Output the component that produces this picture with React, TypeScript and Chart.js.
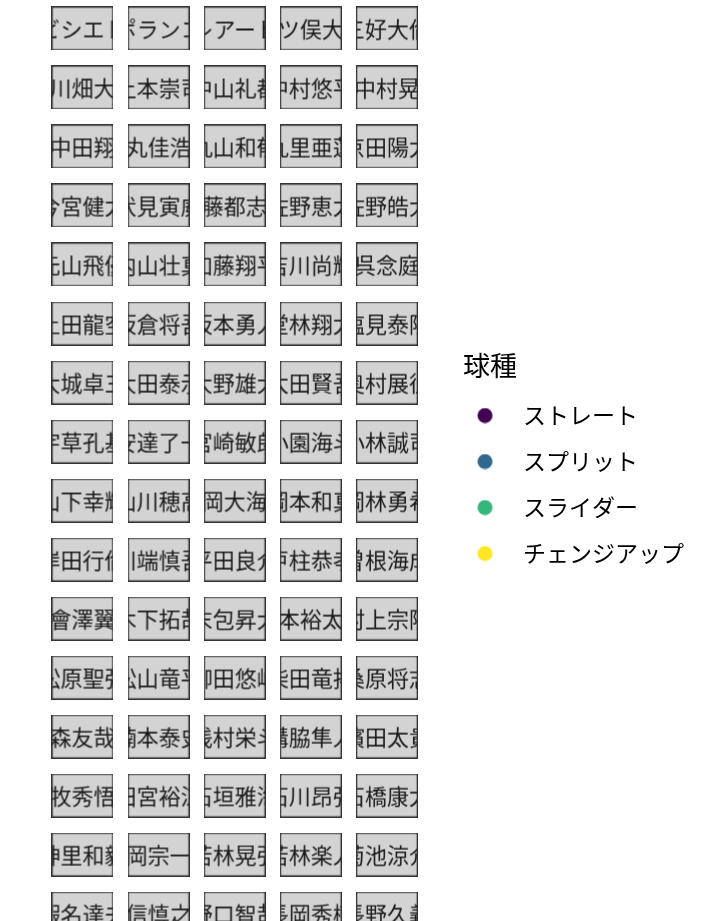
import React, { useEffect, useRef } from "react";
import { Chart, registerables } from "chart.js";

Chart.register(...registerables);

// Facet names (batters), in facet order
const players: string[] = [
  "ビシエド", "ポランコ", "レアード", "三ツ俣大樹", "三好大倫",
  "上川畑大悟", "上本崇司", "中山礼都", "中村悠平", "中村晃",
  "中田翔", "丸佳浩", "丸山和郁", "九里亜蓮", "京田陽太",
  "今宮健太", "伏見寅威", "佐藤都志也", "佐野恵太", "佐野皓大",
  "元山飛優", "内山壮真", "加藤翔平", "吉川尚輝", "呉念庭",
  "土田龍空", "坂倉将吾", "坂本勇人", "堂林翔太", "塩見泰隆",
  "大城卓三", "大田泰示", "大野雄大", "太田賢吾", "奥村展征",
  "宇草孔基", "安達了一", "宮崎敏郎", "小園海斗", "小林誠司",
  "山下幸輝", "山川穂高", "岡大海", "岡本和真", "岡林勇希",
  "岸田行倫", "川端慎吾", "平田良介", "戸柱恭孝", "曽根海成",
  "會澤翼", "木下拓哉", "末包昇大", "杉本裕太郎", "村上宗隆",
  "松原聖弥", "松山竜平", "柳田悠岐", "柴田竜拓", "桑原将志",
  "森友哉", "楠本泰史", "浅村栄斗", "溝脇隼人", "濱田太貴",
  "牧秀悟", "田宮裕涼", "石垣雅海", "石川昂弥", "石橋康太",
  "神里和毅", "立岡宗一郎", "若林晃弘", "若林楽人", "菊池涼介",
  "蝦名達夫", "重信慎之介", "野口智哉", "長岡秀樹", "長野久義",
];

const facetColumns: number[] = [1, 2, 3, 4, 5];

const pitchTypes: string[] = ["ストレート", "スプリット", "スライダー", "チェンジアップ"];
const pitchColors: string[] = ["#440154", "#31688E", "#35B779", "#FDE725"];
const legendTitle = "球種";

const FONT = '"Noto Sans CJK JP", "Noto Sans", sans-serif';

function makeStrip(name: string): HTMLCanvasElement {
  const w = 62;
  const h = 44;
  const c = document.createElement("canvas");
  c.width = w;
  c.height = h;
  const ctx = c.getContext("2d")!;
  ctx.fillStyle = "#D3D3D3";
  ctx.fillRect(0, 0, w, h);
  ctx.font = `22px ${FONT}`;
  ctx.fillStyle = "#1A1A1A";
  ctx.textAlign = "center";
  ctx.textBaseline = "middle";
  ctx.fillText(name, w / 2, h / 2 + 1);
  ctx.strokeStyle = "#333333";
  ctx.lineWidth = 1.3;
  ctx.strokeRect(0.65, 0.65, w - 1.3, h - 1.3);
  return c;
}

function makeLegendDot(color: string): HTMLCanvasElement {
  const c = document.createElement("canvas");
  c.width = 44;
  c.height = 16;
  const ctx = c.getContext("2d")!;
  ctx.fillStyle = color;
  ctx.beginPath();
  ctx.arc(8.25, 8, 7.5, 0, Math.PI * 2);
  ctx.fill();
  return c;
}

export default function App() {
  const canvasRef = useRef<HTMLCanvasElement | null>(null);

  useEffect(() => {
    document.body.style.margin = "0";
    document.body.style.overflow = "hidden";
    const canvas = canvasRef.current;
    if (!canvas) return;

    const stripImages = players.map((p) => makeStrip(p));
    const stripData = players.map((_, i) => ({
      x: facetColumns[i % facetColumns.length],
      y: Math.floor(i / facetColumns.length) + 1,
    }));

    const legendSets = pitchTypes.map((t, i) => ({
      label: t,
      data: [] as { x: number; y: number }[],
      pointStyle: makeLegendDot(pitchColors[i]),
      backgroundColor: pitchColors[i],
      borderColor: pitchColors[i],
    }));

    const chart = new Chart(canvas, {
      type: "scatter",
      data: {
        datasets: [
          {
            label: "facets",
            data: stripData,
            pointStyle: (ctx: any) => stripImages[ctx.dataIndex],
            pointRadius: 1,
            pointHoverRadius: 1,
            clip: false,
          } as any,
          ...(legendSets as any[]),
        ],
      },
      options: {
        animation: false,
        responsive: false,
        devicePixelRatio: 1,
        events: [],
        layout: { autoPadding: false, padding: { left: 44.4, right: 26, top: 0, bottom: 0 } },
        scales: {
          x: { type: "linear", min: 0.5, max: 6, display: false },
          y: { type: "linear", min: 0.517, max: 16.127, reverse: true, display: false },
        },
        plugins: {
          tooltip: { enabled: false },
          legend: {
            position: "right",
            align: "center",
            title: {
              display: true,
              text: legendTitle,
              position: "start",
              color: "#000000",
              font: { size: 27, family: FONT, lineHeight: 1 },
              padding: { top: 19.5, bottom: 1.5 },
            },
            labels: {
              usePointStyle: true,
              pointStyleWidth: 25.5,
              padding: 23,
              color: "#000000",
              font: { size: 23, family: FONT },
              filter: (item: any) => item.datasetIndex > 0,
            },
          },
        },
      } as any,
    });

    return () => chart.destroy();
  }, []);

  return (
    <div style={{ position: "absolute", left: 0, top: 0, width: 720, height: 921 }}>
      <canvas ref={canvasRef} width={720} height={921} style={{ width: 720, height: 921, display: "block" }} />
    </div>
  );
}
